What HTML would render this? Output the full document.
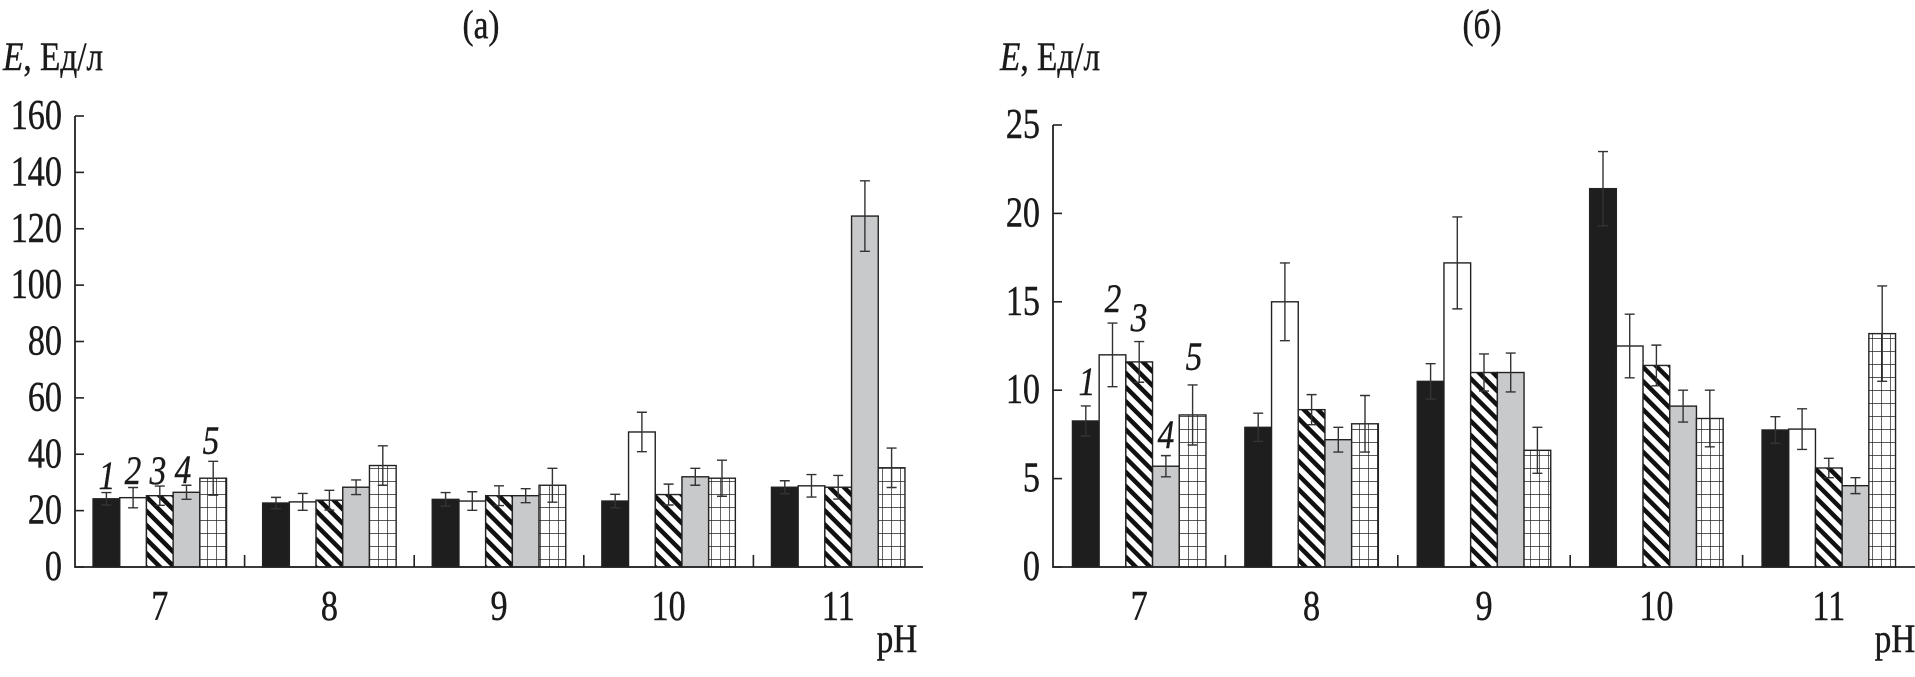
<!DOCTYPE html>
<html><head><meta charset="utf-8"><style>
html,body{margin:0;padding:0;background:#fff;}
svg{display:block;font-family:"Liberation Serif","Noto Serif CJK SC",serif;}
</style></head><body>
<svg id="chart" width="1915" height="677" viewBox="0 0 1915 677" xmlns="http://www.w3.org/2000/svg">
<defs>
<pattern id="hatch" patternUnits="userSpaceOnUse" width="10" height="10" patternTransform="rotate(-45)">
<rect width="10" height="10" fill="#fff"/><rect x="0" y="0" width="4.5" height="10" fill="#111"/>
</pattern>
<pattern id="grid" patternUnits="userSpaceOnUse" width="9" height="13" x="0" y="0">
<rect width="9" height="13" fill="#fff"/><path d="M0 0V13M0 0H9" stroke="#222" stroke-width="1.4" fill="none"/>
</pattern>
</defs>
</svg>
<script>
const categories = ["7","8","9","10","11"];
// panel (a)
const aS1 = [24.2,22.7,24.0,23.4,28.3];
const aS2 = [24.6,23.1,23.4,47.9,28.8];
const aS3 = [25.3,23.7,25.3,25.7,28.3];
const aS4 = [26.5,28.3,25.3,32.0,124.5];
const aS5 = [31.5,36.0,29.0,31.5,35.2];
const aE1 = [2.2,2.0,2.4,2.4,2.3];
const aE2 = [3.6,3.0,3.3,7.0,4.0];
const aE3 = [3.4,3.5,3.5,3.7,4.2];
const aE4 = [2.5,2.6,2.5,3.0,12.5];
const aE5 = [6.0,7.0,6.0,6.4,7.0];
const aTicks = [0,20,40,60,80,100,120,140,160];
// panel (б)
const bS1 = [8.26,7.9,10.5,21.4,7.75];
const bS2 = [12.0,15.0,17.2,12.5,7.8];
const bS3 = [11.6,8.9,11.0,11.4,5.6];
const bS4 = [5.7,7.2,11.0,9.1,4.6];
const bS5 = [8.6,8.1,6.6,8.4,13.2];
const bE1 = [0.85,0.8,1.0,2.1,0.75];
const bE2 = [1.8,2.2,2.6,1.8,1.15];
const bE3 = [1.15,0.85,1.05,1.15,0.55];
const bE4 = [0.6,0.7,1.1,0.9,0.45];
const bE5 = [1.7,1.6,1.3,1.6,2.7];
const bTicks = [0,5,10,15,20,25];

const svg = document.getElementById('chart');
const NS = 'http://www.w3.org/2000/svg';
function mk(tag, attrs, parent){const e=document.createElementNS(NS,tag);for(const k in attrs)e.setAttribute(k,attrs[k]);(parent||svg).appendChild(e);return e;}
function txt(parent,x,y,size,anchor,extra){
  const e = mk('text',Object.assign({x:0,y:0,'font-size':size,'text-anchor':anchor,fill:'#1a1a1a',stroke:'#1a1a1a','stroke-width':0.4,transform:`translate(${x},${y}) scale(0.9,1.1)`},extra||{}),parent);
  return e;
}
const fills = ['#1e1e1e','#fff','url(#hatch)','#c8c9ca','url(#grid)'];

function panel(cfg){
  const g = mk('g',{});
  
  
  const y = v => cfg.y0 - (v/cfg.max)*(cfg.y0-cfg.yTop);
  const gw = (cfg.xEnd-cfg.x0)/categories.length;
  const bw = 26.7;
  const x = (i,s) => cfg.x0 + gw*i + (gw - 5*bw)/2 + s*bw;
  const t = txt(g,cfg.titleX,38,37,'middle');
  t.textContent = cfg.title;
  
  
  const yl = txt(g,cfg.ylX,70,37,'start');
  yl.innerHTML = '<tspan font-style="italic">E</tspan>, Ед/л';
  
  
  const px = txt(g,cfg.phX,652,37,'middle');
  px.textContent = 'pH';
  
  
  cfg.ticks.forEach(v=>{
    const yy=y(v);
    const tk = mk('line',{x1:cfg.x0,x2:cfg.x0+9,y1:yy,y2:yy,stroke:'#222','stroke-width':1.6},g);
    
    
    const tl = txt(g,cfg.x0-13,yy+13,38,'end');
    tl.textContent = v;
    
    
  });
  cfg.series.forEach((ser,s)=>{
    ser.forEach((v,i)=>{
      const r = mk('rect',{x:x(i,s),y:y(v),width:bw,height:cfg.y0-y(v),fill:fills[s],stroke:'#222','stroke-width':1.4},g);
      
      
      const e = cfg.errs[s][i], cx = x(i,s)+bw/2;
      const eb = mk('path',{d:`M${cx} ${y(v+e)}V${y(v-e)}M${cx-5} ${y(v+e)}H${cx+5}M${cx-5} ${y(v-e)}H${cx+5}`,stroke:'#333','stroke-width':1.4,fill:'none'},g);
      
      
    });
  });
  const ax = mk('path',{d:`M${cfg.x0} ${cfg.yTop}V${cfg.y0}H${cfg.xEnd}`,stroke:'#222','stroke-width':1.8,fill:'none'},g);
  
  
  categories.forEach((c,i)=>{
    if(i>0){
      const tk = mk('line',{x1:cfg.x0+gw*i,x2:cfg.x0+gw*i,y1:cfg.y0,y2:cfg.y0-12,stroke:'#222','stroke-width':1.6},g);
      
      
    }
    const cl = txt(g,cfg.x0+gw*(i+0.5),cfg.y0+53,38,'middle');
    cl.textContent = c;
    
    
  });
  cfg.labels.forEach((p,k)=>{
    const lt = txt(g,p[0],p[1],37,'middle',{'font-style':'italic'});
    lt.textContent = String(k+1);
    
    
  });
}

panel({name:'panel-a',title:'(a)',titleX:481,ylX:3,phX:897,x0:75,xEnd:923,y0:567,yTop:116,max:160,ticks:aTicks,
  series:[aS1,aS2,aS3,aS4,aS5],errs:[aE1,aE2,aE3,aE4,aE5],
  labels:[[107,489],[133,484],[158,484],[183,483],[211,454]]});
panel({name:'panel-b',title:'(б)',titleX:1482,ylX:1000,phX:1895,x0:1053,xEnd:1915,y0:567,yTop:125,max:25,ticks:bTicks,
  series:[bS1,bS2,bS3,bS4,bS5],errs:[bE1,bE2,bE3,bE4,bE5],
  labels:[[1087,395],[1113,312],[1139,331],[1166,448],[1194,370]]});
</script>
</body></html>
